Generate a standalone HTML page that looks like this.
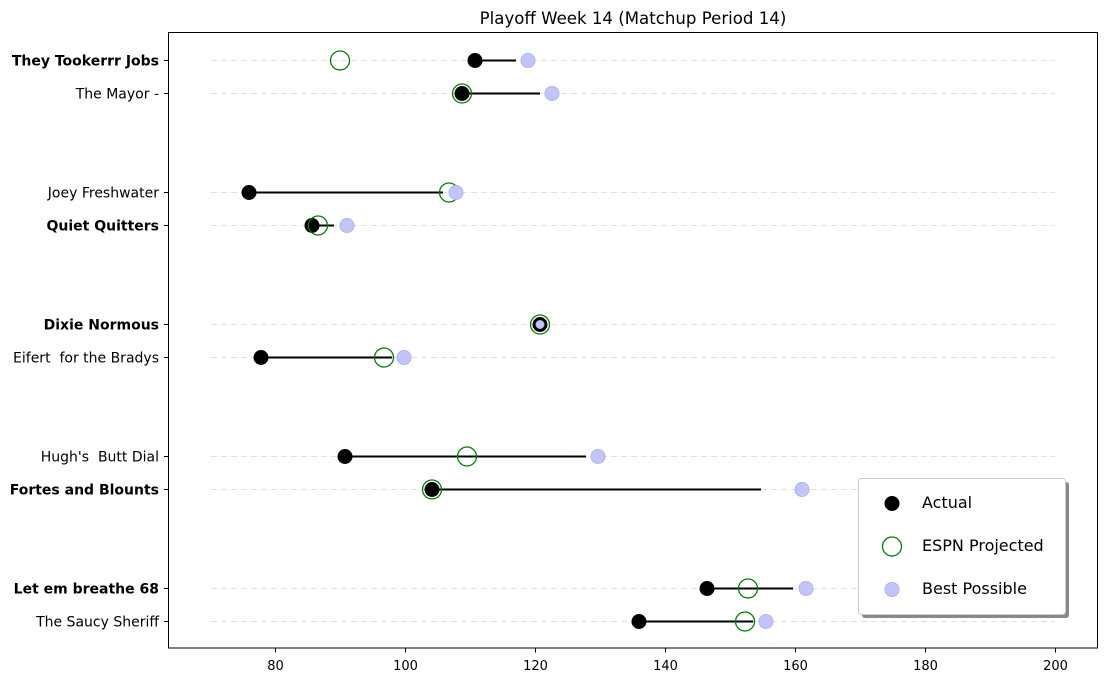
<!DOCTYPE html>
<html><head><meta charset="utf-8"><style>
html,body{margin:0;padding:0;background:#fff;}
svg{display:block;font-family:"DejaVu Sans","Liberation Sans",sans-serif;}
</style></head><body>
<svg width="1108" height="682" viewBox="0 0 1108 682" xmlns="http://www.w3.org/2000/svg">
<rect width="1108" height="682" fill="#fff"/>
<text x="633" y="24" font-size="16.6" text-anchor="middle" fill="#000">Playoff Week 14 (Matchup Period 14)</text>
<g stroke="#e0e0e0" stroke-width="1" stroke-dasharray="6,4">
<line x1="211" x2="1055" y1="60.5" y2="60.5"/><line x1="211" x2="1055" y1="93.5" y2="93.5"/>
<line x1="211" x2="1055" y1="192.5" y2="192.5"/><line x1="211" x2="1055" y1="225.5" y2="225.5"/>
<line x1="211" x2="1055" y1="324.5" y2="324.5"/><line x1="211" x2="1055" y1="357.5" y2="357.5"/>
<line x1="211" x2="1055" y1="456.5" y2="456.5"/><line x1="211" x2="1055" y1="489.5" y2="489.5"/>
<line x1="211" x2="1055" y1="588.5" y2="588.5"/><line x1="211" x2="1055" y1="621.5" y2="621.5"/>
</g>
<g stroke="#000" stroke-width="2">
<line x1="475" x2="516" y1="60.5" y2="60.5"/>
<line x1="462" x2="540" y1="93.5" y2="93.5"/>
<line x1="249" x2="443" y1="192.5" y2="192.5"/>
<line x1="312" x2="334" y1="225.5" y2="225.5"/>
<line x1="261" x2="392" y1="357.5" y2="357.5"/>
<line x1="345" x2="586" y1="456.5" y2="456.5"/>
<line x1="432" x2="761" y1="489.5" y2="489.5"/>
<line x1="707" x2="793" y1="588.5" y2="588.5"/>
<line x1="639" x2="753" y1="621.5" y2="621.5"/>
</g>
<g fill="#000">
<circle cx="475" cy="60.5" r="7.5"/><circle cx="462" cy="93.5" r="7.5"/>
<circle cx="249" cy="192.5" r="7.5"/><circle cx="312" cy="225.5" r="7.5"/>
<circle cx="540" cy="324.5" r="7.5"/><circle cx="261" cy="357.5" r="7.5"/>
<circle cx="345" cy="456.5" r="7.5"/><circle cx="432" cy="489.5" r="7.5"/>
<circle cx="707" cy="588.5" r="7.5"/><circle cx="639" cy="621.5" r="7.5"/>
</g>
<g fill="none" stroke="#008000" stroke-width="1.3">
<circle cx="340" cy="60.5" r="9.5"/><circle cx="462" cy="93.5" r="9.5"/>
<circle cx="449" cy="192.5" r="9.5"/><circle cx="318" cy="225.5" r="9.5"/>
<circle cx="540" cy="324.5" r="9.5"/><circle cx="384" cy="357.5" r="9.5"/>
<circle cx="467" cy="456.5" r="9.5"/><circle cx="432" cy="489.5" r="9.5"/>
<circle cx="748" cy="588.5" r="9.5"/><circle cx="745" cy="621.5" r="9.5"/>
</g>
<g fill="#c4c4fc" stroke="#b0b0f4" stroke-width="1">
<circle cx="528" cy="60.5" r="7"/><circle cx="552" cy="93.5" r="7"/>
<circle cx="456" cy="192.5" r="7"/><circle cx="347" cy="225.5" r="7"/>
<circle cx="540" cy="324.5" r="4"/><circle cx="404" cy="357.5" r="7"/>
<circle cx="598" cy="456.5" r="7"/><circle cx="802" cy="489.5" r="7"/>
<circle cx="806" cy="588.5" r="7"/><circle cx="766" cy="621.5" r="7"/>
</g>
<rect x="168.5" y="32.5" width="929" height="615.5" fill="none" stroke="#000" stroke-width="1"/>
<g stroke="#000" stroke-width="1">
<line x1="168.5" x2="164" y1="60.5" y2="60.5"/><line x1="168.5" x2="164" y1="93.5" y2="93.5"/>
<line x1="168.5" x2="164" y1="192.5" y2="192.5"/><line x1="168.5" x2="164" y1="225.5" y2="225.5"/>
<line x1="168.5" x2="164" y1="324.5" y2="324.5"/><line x1="168.5" x2="164" y1="357.5" y2="357.5"/>
<line x1="168.5" x2="164" y1="456.5" y2="456.5"/><line x1="168.5" x2="164" y1="489.5" y2="489.5"/>
<line x1="168.5" x2="164" y1="588.5" y2="588.5"/><line x1="168.5" x2="164" y1="621.5" y2="621.5"/>
<line x1="275.5" x2="275.5" y1="648" y2="652.5"/><line x1="405.5" x2="405.5" y1="648" y2="652.5"/>
<line x1="535.5" x2="535.5" y1="648" y2="652.5"/><line x1="665.5" x2="665.5" y1="648" y2="652.5"/>
<line x1="795.5" x2="795.5" y1="648" y2="652.5"/><line x1="925.5" x2="925.5" y1="648" y2="652.5"/>
<line x1="1055.5" x2="1055.5" y1="648" y2="652.5"/>
</g>
<g font-size="14" text-anchor="end" fill="#000">
<text x="159" y="65.5" font-weight="bold">They Tookerrr Jobs</text>
<text x="159" y="98.5">The Mayor -</text>
<text x="159" y="197.5">Joey Freshwater</text>
<text x="159" y="230.5" font-weight="bold">Quiet Quitters</text>
<text x="159" y="329.5" font-weight="bold">Dixie Normous</text>
<text x="159" y="362.5" xml:space="preserve">Eifert  for the Bradys</text>
<text x="159" y="461.5" xml:space="preserve">Hugh's  Butt Dial</text>
<text x="159" y="494.5" font-weight="bold">Fortes and Blounts</text>
<text x="159" y="593.5" font-weight="bold">Let em breathe 68</text>
<text x="159" y="626.5">The Saucy Sheriff</text>
</g>
<g font-size="13" text-anchor="middle" fill="#000">
<text x="275.5" y="670">80</text><text x="405.5" y="670">100</text><text x="535.5" y="670">120</text>
<text x="665.5" y="670">140</text><text x="795.5" y="670">160</text><text x="925.5" y="670">180</text>
<text x="1055.5" y="670">200</text>
</g>
<rect x="862" y="482" width="207" height="136" rx="3" fill="#888"/>
<rect x="858.5" y="478.5" width="207" height="136" rx="3" fill="#fff" stroke="#ccc"/>
<circle cx="892" cy="503.5" r="7.5" fill="#000"/>
<circle cx="892" cy="546.5" r="9.5" fill="none" stroke="#008000" stroke-width="1.3"/>
<circle cx="892" cy="589.5" r="7" fill="#c4c4fc" stroke="#b0b0f4"/>
<g font-size="16" fill="#000">
<text x="922" y="508">Actual</text>
<text x="922" y="551">ESPN Projected</text>
<text x="922" y="594">Best Possible</text>
</g>
</svg>
</body></html>
